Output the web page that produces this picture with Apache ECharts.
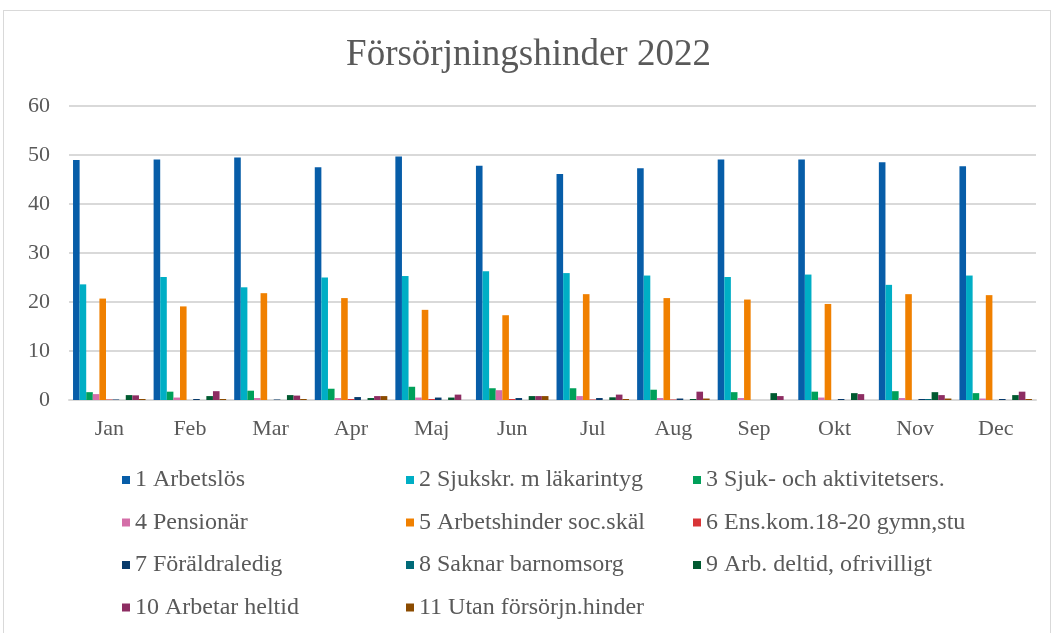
<!DOCTYPE html>
<html>
<head>
<meta charset="utf-8">
<script src="https://cdn.jsdelivr.net/npm/echarts@6/dist/echarts.min.js"></script>
<style>
  html, body { margin: 0; padding: 0; background: #fff; }
  #frame { position: absolute; left: 3px; top: 10px; width: 1048px; height: 700px; border: 1px solid #d9d9d9; box-sizing: border-box; }
  #chart { position: absolute; left: 0; top: 0; width: 1057px; height: 633px; }
</style>
</head>
<body>
<div id="frame"></div>
<div id="chart"></div>
<script>
const months = ["Jan", "Feb", "Mar", "Apr", "Maj", "Jun", "Jul", "Aug", "Sep", "Okt", "Nov", "Dec"];

const seriesNames = [
  "1 Arbetslös", "2 Sjukskr. m läkarintyg", "3 Sjuk- och aktivitetsers.",
  "4 Pensionär", "5 Arbetshinder soc.skäl", "6 Ens.kom.18-20 gymn,stu",
  "7 Föräldraledig", "8 Saknar barnomsorg", "9 Arb. deltid, ofrivilligt",
  "10 Arbetar heltid", "11 Utan försörjn.hinder"
];

const arbetslos    = [49.0, 49.1, 49.5, 47.5, 49.7, 47.8, 46.1, 47.3, 49.1, 49.1, 48.5, 47.7];
const sjukskr      = [23.6, 25.1, 23.0, 25.0, 25.3, 26.3, 25.9, 25.4, 25.1, 25.6, 23.5, 25.4];
const sjukAkt      = [1.6, 1.7, 1.9, 2.3, 2.7, 2.4, 2.4, 2.1, 1.6, 1.7, 1.8, 1.4];
const pensionar    = [1.2, 0.5, 0.4, 0.4, 0.5, 2.0, 0.8, 0.4, 0.4, 0.5, 0.4, 0.3];
const arbetshinder = [20.7, 19.1, 21.8, 20.8, 18.4, 17.3, 21.6, 20.8, 20.5, 19.6, 21.6, 21.4];
const ensKom       = [0.1, 0, 0, 0.2, 0.2, 0.2, 0.1, 0.1, 0, 0, 0, 0];
const foraldraledig = [0.1, 0.2, 0.1, 0.6, 0.5, 0.4, 0.4, 0.3, 0, 0.2, 0.2, 0.2];
const saknarBarnomsorg = [0, 0, 0, 0, 0, 0, 0, 0, 0, 0, 0.2, 0];
const deltid       = [1.0, 0.8, 1.0, 0.4, 0.5, 0.8, 0.55, 0.2, 1.4, 1.4, 1.6, 1.0];
const heltid       = [0.95, 1.8, 0.9, 0.8, 1.1, 0.8, 1.1, 1.7, 0.8, 1.2, 1.0, 1.7];
const utanHinder   = [0.2, 0.2, 0.2, 0.8, 0, 0.8, 0.2, 0.3, 0, 0, 0.3, 0.2];

const seriesData = [arbetslos, sjukskr, sjukAkt, pensionar, arbetshinder, ensKom,
  foraldraledig, saknarBarnomsorg, deltid, heltid, utanHinder];

const colors = ["#075da8", "#00aec5", "#00a05a", "#d46ea8", "#f08000", "#d83437",
  "#083a6b", "#006a78", "#005a30", "#8d2d62", "#8b4b00"];

const font = "Liberation Serif";
const textColor = "#595959";

const chart = echarts.init(document.getElementById("chart"));

// three legend columns like the original layout
const legendCol = (names, left) => ({
  orient: "vertical",
  left: left,
  top: 463,
  data: names,
  icon: "rect",
  itemWidth: 8,
  itemHeight: 8,
  itemGap: 18.5,
  textStyle: { fontFamily: font, fontSize: 24, color: textColor, lineHeight: 22 }
});

chart.setOption({
  color: colors,
  animation: false,
  textStyle: { fontFamily: font },
  title: {
    text: "Försörjningshinder 2022",
    left: "center",
    top: 32,
    textStyle: { fontFamily: font, fontSize: 37, fontWeight: "normal", color: textColor }
  },
  legend: [
    legendCol([seriesNames[0], seriesNames[3], seriesNames[6], seriesNames[9]], 117),
    legendCol([seriesNames[1], seriesNames[4], seriesNames[7], seriesNames[10]], 401),
    legendCol([seriesNames[2], seriesNames[5], seriesNames[8]], 688)
  ],
  grid: { left: 69, right: 21, top: 106, bottom: 233 },
  xAxis: {
    type: "category",
    data: months,
    axisTick: { show: false },
    axisLine: { lineStyle: { color: "#d9d9d9", width: 2 } },
    axisLabel: { fontFamily: font, fontSize: 22, color: textColor, margin: 18 }
  },
  yAxis: {
    type: "value",
    min: 0,
    max: 60,
    interval: 10,
    axisLabel: { fontFamily: font, fontSize: 22, color: textColor, margin: 19 },
    splitLine: { lineStyle: { color: "#d9d9d9", width: 2 } }
  },
  series: seriesData.map((d, i) => ({
    name: seriesNames[i],
    type: "bar",
    data: d,
    barGap: "0%",
    barCategoryGap: "10%"
  }))
});
</script>
</body>
</html>
